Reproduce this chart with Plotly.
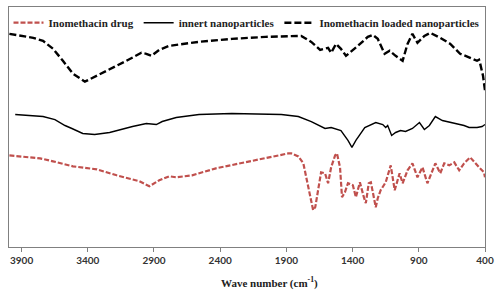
import plotly.graph_objects as go

# Inomethacin loaded nanoparticles (top dashed black)
loaded_wn = [3992, 3812, 3738, 3662, 3588, 3512, 3422, 3332, 3235, 3108, 2995, 2958, 2920, 2860, 2785,
             2560, 2312, 2058, 1788, 1712, 1645, 1585, 1562, 1525, 1488, 1450, 1360, 1285, 1248, 1210,
             1158, 1120, 1075, 1022, 985, 948, 910, 858, 812, 738, 662, 588, 512, 460, 445, 438, 415, 400]
loaded_t = [217, 213, 210, 202, 190, 177, 169, 175, 181, 190, 198, 197, 195, 201, 205,
            209, 212, 214, 215, 209, 201, 203, 198, 207, 202, 195, 205, 214, 216, 212,
            197, 200, 195, 190, 207, 217, 208, 215, 218, 213, 207, 197, 193, 190, 191, 188, 175, 160]

# innert nanoparticles (solid black)
inert_wn = [3948, 3738, 3648, 3595, 3572, 3520, 3438, 3348, 3235, 3062, 2958, 2882, 2838, 2732, 2560,
            2312, 1938, 1810, 1712, 1608, 1562, 1488, 1435, 1405, 1375, 1308, 1225, 1172, 1150, 1135,
            1105, 1075, 1038, 1000, 948, 895, 858, 820, 775, 722, 662, 610, 558, 520, 460, 422, 400]
inert_t = [136, 134, 131, 127, 125, 122, 117, 116, 118, 124, 127, 126, 129, 133, 136,
           137, 136, 134, 129, 122, 123, 120, 110, 103, 110, 123, 128, 126, 123, 125,
           115, 118, 120, 119, 122, 128, 121, 125, 134, 130, 128, 127, 125, 123, 123, 124, 126]

# Inomethacin drug (red dashed)
drug_wn = [3992, 3760, 3662, 3512, 3332, 3182, 3010, 2935, 2860, 2785, 2732, 2612, 2432, 2185, 1982,
           1885, 1862, 1810, 1772, 1750, 1720, 1698, 1682, 1660, 1638, 1608, 1585, 1562, 1532, 1518,
           1495, 1480, 1458, 1435, 1398, 1375, 1345, 1315, 1300, 1278, 1262, 1225, 1210, 1188, 1150,
           1112, 1082, 1045, 1022, 985, 948, 910, 872, 835, 805, 775, 738, 708, 670, 632,
           595, 558, 512, 475, 438, 408, 400]
drug_t = [95, 92, 89, 84, 81, 75, 69, 64, 70, 74, 73, 75, 82, 89, 94,
          97, 97, 94, 87, 73, 53, 40, 43, 60, 78, 77, 67, 83, 95, 97,
          83, 53, 58, 67, 65, 53, 68, 53, 47, 67, 68, 43, 52, 60, 68,
          85, 60, 77, 67, 80, 87, 73, 83, 67, 78, 87, 77, 87, 85, 88,
          80, 87, 93, 87, 82, 78, 73]

x_ticks = [3900, 3400, 2900, 2400, 1900, 1400, 900, 400]

fig = go.Figure()
fig.add_trace(go.Scatter(x=drug_wn, y=drug_t, mode="lines", name="Inomethacin drug",
                         line=dict(color="#c0504d", width=2.2, dash="5px,2px")))
fig.add_trace(go.Scatter(x=inert_wn, y=inert_t, mode="lines", name="innert nanoparticles",
                         line=dict(color="black", width=1.4)))
fig.add_trace(go.Scatter(x=loaded_wn, y=loaded_t, mode="lines", name="Inomethacin loaded nanoparticles",
                         line=dict(color="black", width=2.4, dash="7px,3px")))

fig.update_layout(
    width=500, height=294,
    margin=dict(l=9, r=12, t=6, b=47),
    paper_bgcolor="white", plot_bgcolor="white",
    showlegend=True,
    legend=dict(orientation="h", x=0.5, xanchor="center", y=0.995, yanchor="top",
                font=dict(family="Liberation Serif", size=11, color="#222", weight="bold"),
                bgcolor="rgba(0,0,0,0)", itemwidth=30, tracegroupgap=0),
    xaxis=dict(range=[3995, 400], tickvals=x_ticks, ticktext=[str(v) for v in x_ticks],
               showline=True, linecolor="#808080", linewidth=1, mirror=True,
               ticks="outside", ticklen=4, tickcolor="#808080",
               showgrid=False, zeroline=False,
               tickfont=dict(family="Lato", size=10, color="#333", weight="bold")),
    yaxis=dict(range=[3, 244], showticklabels=False, ticks="",
               showline=True, linecolor="#808080", linewidth=1, mirror=True,
               showgrid=False, zeroline=False),
    annotations=[dict(text="<b>Wave number (cm<sup>-1</sup>)</b>", xref="paper", yref="paper",
                      x=0.547, y=-0.149, xanchor="center", yanchor="middle", showarrow=False,
                      font=dict(family="Liberation Serif", size=11, color="#222"))],
)

fig.write_html("out.html", config={"displayModeBar": False},
               post_script="document.body.style.margin='0';document.body.style.padding='0';")
